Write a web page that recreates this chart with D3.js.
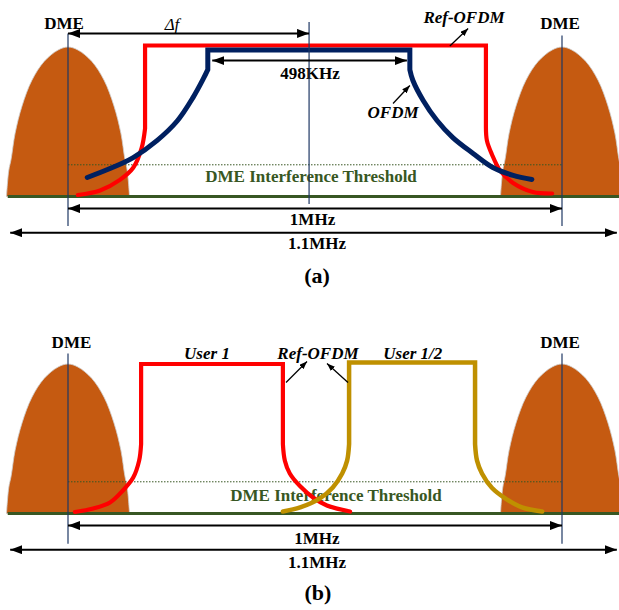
<!DOCTYPE html>
<html><head><meta charset="utf-8">
<script src="https://cdn.jsdelivr.net/npm/d3@7/dist/d3.min.js"></script>
<style>body{margin:0;background:#fff} svg{display:block}</style>
</head><body>
<svg id="chart" width="619" height="610"></svg>
<script>
// ---------------- data: frequency offset (kHz), level (% of DME peak) ----------------
const dmeCentres = [-500, 500];
const dmeProfile = [[0,99],[20,97],[48,89.5],[73,77],[93,60],[107,42],[115,25],[120,17],[124.5,0]];
const thresholdLevel = 21;
const baselineExtent = [-622, 650];

// panel (a)
const refA_left  = [[-480,1],[-435,4],[-395,11],[-368,19],[-351,32],[-344,45],[-344,100]];
const refA_right = [[346,100],[346,46],[348,37],[358,28],[375,17],[401,9],[441,3],[480,2]];
const ofdmA_left  = [[-461,12.6],[-415,18.5],[-368,25.8],[-320,37],[-279,50],[-247,65.5],[-226,78],[-217,84],[-217,97]];
const ofdmA_right = [[192,97],[192,84],[198,77],[219,63.6],[247,50.3],[279,39],[320,28.5],[360,19.2],[401,14],[439,11.3]];

// panel (b)
const user1_left  = [[-486,1],[-449,3.3],[-415,7.3],[-389,15.2],[-368,23.8],[-356,35],[-352,46],[-352,99]];
const user1_right = [[-65,99],[-65,46],[-61,35],[-51,26.5],[-30,18],[-4,10.6],[24,5.3],[71,1.3]];
const user2_left  = [[-65,1.3],[-30,4],[10,10],[36,17.2],[55,26.5],[65,35],[69,46],[69,100]];
const user2_right = [[324,100],[324,46],[328,35],[338,26.5],[358,17],[385,10],[419,4],[460,1.3]];

// dimension arrows [from kHz, to kHz, level]
const spanArrowsA = [[-500,-12,108],[-208,186,90],[-500,500,-8],[-617,611,-24]];
const spanArrowsB = [[-500,500,-8],[-617,611,-24]];
// pointer arrows [x0,l0,x1,l1]
const pointersA = [[273,99.7,310,111.3],[158,61.6,192,73.5]];
const pointersB = [[-58.7,86.8,-16.2,100.7],[66.8,86.8,24.3,99.3]];
// vertical marker lines [kHz, top level, bottom level]
const vlinesA = [[-500,108,-19.5],[500,106.6,-19.5],[-12,115.6,-5]];
const vlinesB = [[-500,106,-20],[500,106,-20]];
// text labels [text, kHz, level, kind]
const textA = [
  ["DME",-508,111,"b"],["DME",496,111,"b"],["Δf",-289.5,110,"i"],
  ["498KHz",-10,78,"b"],["Ref-OFDM",301.6,114.8,"bi"],["OFDM",158,52.3,"bi"],
  ["DME Interference Threshold",-8,9.3,"g"],["1MHz",-5,-19.2,"b"],["1.1MHz",4,-35,"b"],["(a)",4,-57,"c"]
];
const textB = [
  ["DME",-493,109.7,"b"],["DME",496,109.3,"b"],["User 1",-218.6,102.6,"bi"],
  ["Ref-OFDM",6,102.6,"bi"],["User 1/2",198,102.6,"bi"],
  ["DME Interference Threshold",42.5,8.6,"g"],["1MHz",4,-19.9,"b"],["1.1MHz",4,-35.8,"b"],["(b)",6,-57.6,"c"]
];

// ---------------- drawing ----------------
const svg = d3.select("#chart");
const x = d3.scaleLinear().domain([-500,500]).range([68,562]);
const C = {dme:"#C55A11", green:"#385723", red:"#FF0000", navy:"#002060", gold:"#BF9000", vline:"#1F3864"};
const FONT = "'Liberation Serif','Times New Roman',serif";

const defs = svg.append("defs");
defs.append("marker").attr("id","ah").attr("viewBox","0 0 12 9").attr("refX",12).attr("refY",4.5)
  .attr("markerWidth",12).attr("markerHeight",9).attr("markerUnits","userSpaceOnUse")
  .attr("orient","auto-start-reverse").append("path").attr("d","M0,0L12,4.5L0,9Z").attr("fill","#000");
defs.append("marker").attr("id","ahs").attr("viewBox","0 0 8 6").attr("refX",8).attr("refY",3)
  .attr("markerWidth",8).attr("markerHeight",6).attr("markerUnits","userSpaceOnUse")
  .attr("orient","auto").append("path").attr("d","M0,0L8,3L0,6Z").attr("fill","#000");

function tracePath(left, right, y) {
  const cr = d3.line().x(d=>x(d[0])).y(d=>y(d[1])).curve(d3.curveCatmullRom.alpha(0.5));
  const lin = p => `L${x(p[0])},${y(p[1])}`;
  return cr(left.slice(0,-1)) + lin(left[left.length-1]) + lin(right[0]) +
         cr(right.slice(1)).replace(/^M/, "L");
}

function drawPanel(base, traces, spans, pointers, vlines, texts) {
  const y = d3.scaleLinear().domain([0,100]).range([base, base-151]);
  const g = svg.append("g");
  // DME humps
  const humpLine = d3.line().x(d=>x(d[0])).y(d=>y(d[1])).curve(d3.curveCatmullRom.alpha(0.5));
  dmeCentres.forEach(c => {
    const pts = dmeProfile.slice().reverse().map(p=>[c-p[0],p[1]])
      .concat(dmeProfile.slice(1).map(p=>[c+p[0],p[1]]));
    g.append("path").attr("d", humpLine(pts)+"Z").attr("fill",C.dme)
      .attr("stroke","#cfcfcf").attr("stroke-width",0.8);
  });
  // baseline
  g.append("line").attr("x1",x(baselineExtent[0])).attr("x2",x(baselineExtent[1]))
    .attr("y1",y(0)).attr("y2",y(0)).attr("stroke",C.green).attr("stroke-width",3);
  // threshold
  g.append("line").attr("x1",x(-500)).attr("x2",x(500)).attr("y1",y(thresholdLevel)).attr("y2",y(thresholdLevel))
    .attr("stroke",C.green).attr("stroke-width",1).attr("stroke-dasharray","1.5,1.5");
  // texts
  texts.forEach(t => {
    const el = g.append("text").attr("x",x(t[1])).attr("y",y(t[2])).attr("text-anchor","middle")
      .attr("font-family",FONT).text(t[0]);
    const k = t[3];
    el.attr("font-size", k==="c" ? 22 : 17)
      .attr("font-weight", k==="i" ? "normal" : "bold")
      .attr("font-style", (k==="i"||k==="bi") ? "italic" : "normal")
      .attr("fill", k==="g" ? C.green : "#000");
  });
  // spectral traces
  traces.forEach(tr => {
    g.append("path").attr("d", tracePath(tr[0], tr[1], y)).attr("fill","none")
      .attr("stroke", tr[2]).attr("stroke-width", tr[3])
      .attr("stroke-linecap","round").attr("stroke-linejoin","miter");
  });
  // vertical lines
  vlines.forEach(v => {
    g.append("line").attr("x1",x(v[0])).attr("x2",x(v[0])).attr("y1",y(v[1])).attr("y2",y(v[2]))
      .attr("stroke",C.vline).attr("stroke-width",1.2);
  });
  // span arrows
  spans.forEach(s => {
    g.append("line").attr("x1",x(s[0])).attr("x2",x(s[1])).attr("y1",y(s[2])).attr("y2",y(s[2]))
      .attr("stroke","#000").attr("stroke-width",2)
      .attr("marker-start","url(#ah)").attr("marker-end","url(#ah)");
  });
  // pointer arrows
  pointers.forEach(p => {
    g.append("line").attr("x1",x(p[0])).attr("y1",y(p[1])).attr("x2",x(p[2])).attr("y2",y(p[3]))
      .attr("stroke","#000").attr("stroke-width",1.3).attr("marker-end","url(#ahs)");
  });
}

drawPanel(196.5,
  [[refA_left, refA_right, C.red, 4.2], [ofdmA_left, ofdmA_right, C.navy, 5]],
  spanArrowsA, pointersA, vlinesA, textA);
drawPanel(513.5,
  [[user1_left, user1_right, C.red, 4.2], [user2_left, user2_right, C.gold, 4.5]],
  spanArrowsB, pointersB, vlinesB, textB);
</script>
</body></html>
